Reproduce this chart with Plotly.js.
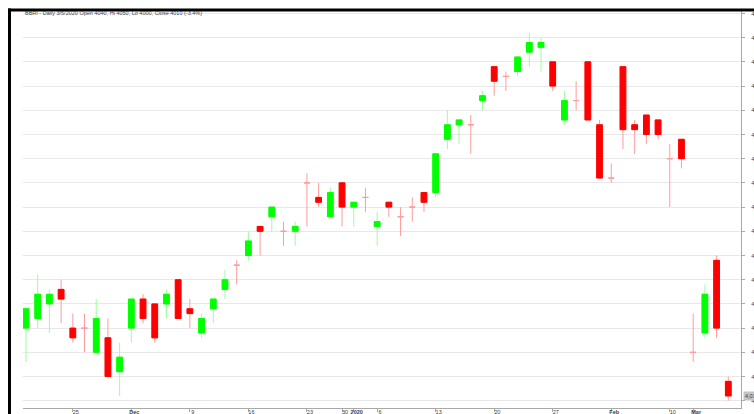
<!DOCTYPE html>
<html>
<head>
<meta charset="utf-8">
<script src="https://cdn.plot.ly/plotly-3.0.1.min.js"></script>
<style>
html, body { margin: 0; padding: 0; background: #fff; overflow: hidden; }
#chart { width: 754px; height: 414px; }
</style>
</head>
<body>
<div id="chart"></div>
<script>
// ---- data ----
const dates = [
  '2019-11-19','2019-11-20','2019-11-21','2019-11-22','2019-11-25','2019-11-26','2019-11-27','2019-11-28','2019-11-29',
  '2019-12-02','2019-12-03','2019-12-04','2019-12-05','2019-12-06','2019-12-09','2019-12-10','2019-12-11','2019-12-12','2019-12-13',
  '2019-12-16','2019-12-17','2019-12-18','2019-12-19','2019-12-20','2019-12-23','2019-12-26','2019-12-27','2019-12-30',
  '2020-01-02','2020-01-03','2020-01-06','2020-01-07','2020-01-08','2020-01-09','2020-01-10',
  '2020-01-13','2020-01-14','2020-01-15','2020-01-16','2020-01-17','2020-01-20','2020-01-21','2020-01-22','2020-01-23','2020-01-24',
  '2020-01-27','2020-01-28','2020-01-29','2020-01-30','2020-01-31','2020-02-03','2020-02-04','2020-02-05','2020-02-06','2020-02-07',
  '2020-02-10','2020-02-11','2020-03-02','2020-03-03','2020-03-04','2020-03-05'
];
const open  = [4150,4170,4200,4230,4150,4150,4100,4130,4060, 4150,4210,4200,4200,4250,4190,4140,4190,4230,4280, 4300,4360,4380,4350,4350,4450,4420,4380,4450, 4400,4420,4360,4410,4380,4400,4430, 4430,4540,4570,4570,4620,4690,4670,4680,4720,4730, 4700,4580,4620,4700,4570,4460,4690,4570,4590,4580, 4500,4540,4100,4140,4290,4040];
const high  = [4190,4260,4230,4250,4180,4180,4210,4170,4120, 4210,4220,4200,4230,4250,4210,4180,4210,4270,4290, 4350,4360,4400,4370,4370,4470,4450,4440,4450, 4410,4440,4390,4410,4400,4420,4430, 4510,4600,4580,4590,4640,4690,4680,4710,4760,4750, 4700,4640,4660,4700,4580,4490,4690,4580,4590,4580, 4530,4540,4180,4240,4300,4050];
const low   = [4080,4150,4140,4160,4120,4100,4100,4050,4010, 4120,4160,4120,4170,4170,4150,4130,4160,4210,4240, 4290,4300,4350,4320,4320,4360,4400,4380,4360, 4360,4390,4320,4380,4340,4370,4390, 4420,4520,4530,4510,4600,4630,4640,4670,4690,4680, 4640,4570,4600,4580,4460,4450,4520,4510,4530,4540, 4400,4480,4080,4130,4130,4000];
const close = [4190,4220,4220,4210,4130,4150,4170,4050,4090, 4210,4170,4130,4220,4170,4180,4170,4210,4250,4280, 4330,4350,4400,4350,4360,4450,4410,4430,4400, 4410,4420,4370,4400,4380,4400,4410, 4510,4570,4580,4570,4630,4660,4670,4710,4740,4740, 4650,4620,4620,4580,4460,4460,4560,4560,4550,4550, 4500,4500,4100,4220,4150,4010];

const tickDates  = ['2019-11-25','2019-12-02','2019-12-09','2019-12-16','2019-12-23','2019-12-30','2020-01-02','2020-01-06','2020-01-13','2020-01-20','2020-01-27','2020-02-03','2020-02-10','2020-03-02'];
const tickLabels = ['25','Dec','9','16','23','30','2020','6','13','20','27','Feb','10','Mar'];
const symbol = 'BBRI';

// ---- build traces ----
const n = dates.length;
const pick = (arr, cond) => arr.map((v, i) => cond(i) ? v : null);
const isUp   = i => close[i] > open[i];
const isDown = i => !isUp(i);
const hasBody = i => close[i] !== open[i];
const bodyHi = open.map((o, i) => Math.max(o, close[i]));
const bodyLo = open.map((o, i) => Math.min(o, close[i]));

const UP = '#00ff00', DOWN = '#ff0000', UPW = '#9cff9c', DOWNW = '#ff9c9c';

function candle(cond, o, h, l, c, lineCol, fillCol) {
  const style = { line: { color: lineCol, width: 1 }, fillcolor: fillCol };
  return {
    type: 'candlestick', x: dates,
    open: pick(o, cond), high: pick(h, cond), low: pick(l, cond), close: pick(c, cond),
    increasing: style, decreasing: style, whiskerwidth: 0,
    hoverinfo: 'skip', showlegend: false
  };
}

const traces = [
  candle(isUp,   open, high, low, close, UPW, UPW),
  candle(isDown, open, high, low, close, DOWNW, DOWNW),
  candle(i => isUp(i) && hasBody(i),   open, bodyHi, bodyLo, close, UP, UP),
  candle(i => isDown(i) && hasBody(i), open, bodyHi, bodyLo, close, DOWN, DOWN)
];

const last = n - 1;
const pct = ((close[last] - close[last - 1]) / close[last - 1] * 100).toFixed(1);
const d = new Date(dates[last] + 'T00:00:00');
const titleText = `${symbol} - Daily ${d.getMonth() + 1}/${d.getDate()}/${d.getFullYear()} Open ${open[last]}, Hi ${high[last]}, Lo ${low[last]}, Close ${close[last]} (${pct}%)`;

const FONT = 'Liberation Sans, Arial, sans-serif';
const W = 754, H = 414, ML = 23, MR = 13, MT = 11, MB = 6;
const PW = W - ML - MR, PH = H - MT - MB;
const px = x => (x - ML) / PW;
const py = y => (H - MB - y) / PH;

const layout = {
  width: W, height: H,
  margin: { l: ML, r: MR, t: MT, b: MB, pad: 0 },
  paper_bgcolor: '#ffffff', plot_bgcolor: '#ffffff',
  showlegend: false, hovermode: false,
  title: {
    text: titleText, x: 25 / W, xref: 'container', xanchor: 'left',
    y: 1 - 13 / H, yref: 'container', yanchor: 'middle',
    font: { family: FONT, size: 5.5, color: '#404040' }
  },
  xaxis: {
    type: 'category', range: [-0.256, n - 1 + 1.085],
    rangeslider: { visible: false },
    showgrid: false, zeroline: false,
    showline: true, linecolor: '#a8a8a8', linewidth: 1,
    ticks: 'outside', ticklen: 3, tickcolor: '#a8a8a8',
    tickmode: 'array', tickvals: tickDates,
    ticktext: tickLabels.map(t => /^\d{1,2}$/.test(t) ? t : '<b>' + t + '</b>'),
    tickfont: { family: FONT, size: 5.5, color: '#404040' },
    ticklabelshift: 3, ticklabelstandoff: -5, fixedrange: true
  },
  yaxis: {
    side: 'right', range: [3985, 4805], tick0: 4000, dtick: 50,
    showgrid: true, gridcolor: '#e8e8e8', gridwidth: 1, zeroline: false,
    showline: true, linecolor: '#a8a8a8', linewidth: 1,
    ticks: 'outside', ticklen: 3, tickcolor: '#a8a8a8',
    tickformat: ',d',
    tickfont: { family: FONT, size: 6, color: '#404040' },
    ticklabelstandoff: 5,
    fixedrange: true
  },
  shapes: [
    { type: 'line', xref: 'paper', yref: 'paper', x0: px(8), x1: px(754), y0: py(10), y1: py(10), line: { color: '#000', width: 3 } },
    { type: 'line', xref: 'paper', yref: 'paper', x0: px(9.5), x1: px(9.5), y0: py(8.5), y1: py(414), line: { color: '#000', width: 3 } }
  ],
  annotations: [
    { xref: 'paper', x: 1, xanchor: 'left', xshift: 2, yref: 'y', y: close[last], yanchor: 'middle',
      text: close[last].toLocaleString('en-US'), showarrow: false, bgcolor: '#c4c4c4', borderpad: 1,
      font: { family: FONT, size: 5.5, color: '#404040' } }
  ]
};

Plotly.newPlot('chart', traces, layout, { staticPlot: true, displayModeBar: false });
</script>
</body>
</html>
